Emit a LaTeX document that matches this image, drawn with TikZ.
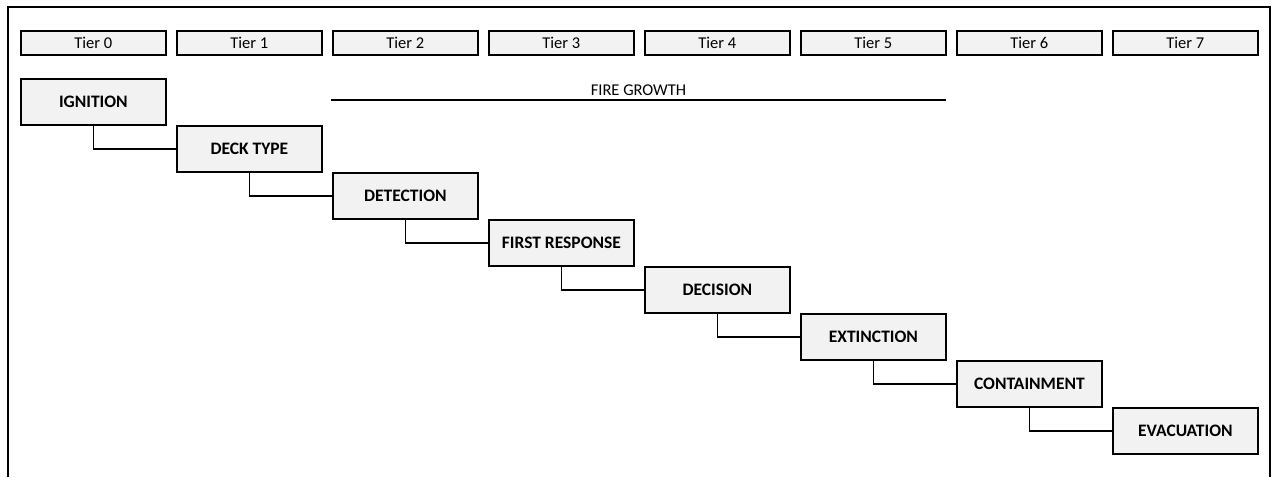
\documentclass[tikz,border=0pt]{standalone}
\usepackage{fontspec}
\setmainfont{Carlito}
\begin{document}
\begin{tikzpicture}[x=1pt,y=-1pt,
  tierbox/.style={draw,line width=1.6pt,fill=black!5,minimum width=145pt,minimum height=24pt,inner sep=0pt,anchor=north west,font=\fontsize{16.5}{19}\selectfont},
  stagebox/.style={draw,line width=1.8pt,fill=black!5,minimum width=145pt,minimum height=46pt,inner sep=0pt,anchor=north west,font=\fontsize{17.5}{20}\selectfont\bfseries},
  link/.style={line width=1.6pt},
  frameline/.style={line width=2pt}]
\useasboundingbox (0,0) rectangle (1272,477);
\draw[frameline] (8,477) -- (8,7) -- (1270,7) -- (1270,477);
\foreach \i in {0,...,7}{
  \node[tierbox] (t\i) at ({20+156*\i},30) {Tier \i};
}
\node[stagebox] (b0) at (20,78) {IGNITION};
\node[stagebox] (b1) at (176,125) {DECK TYPE};
\node[stagebox] (b2) at (332,172) {DETECTION};
\node[stagebox] (b3) at (488,219) {FIRST RESPONSE};
\node[stagebox] (b4) at (644,266) {DECISION};
\node[stagebox] (b5) at (800,313) {EXTINCTION};
\node[stagebox] (b6) at (956,360) {CONTAINMENT};
\node[stagebox] (b7) at (1112,407) {EVACUATION};
\foreach \a/\b in {0/1,1/2,2/3,3/4,4/5,5/6,6/7}{
  \draw[link] (b\a.south) |- (b\b.west);
}
\coordinate (fgL) at (331,100);
\coordinate (fgR) at (946,100);
\draw[link] (fgL) -- (fgR) node[midway,above=0.5pt,font=\fontsize{16.5}{19}\selectfont] (fg) {FIRE GROWTH};
\end{tikzpicture}
\end{document}
